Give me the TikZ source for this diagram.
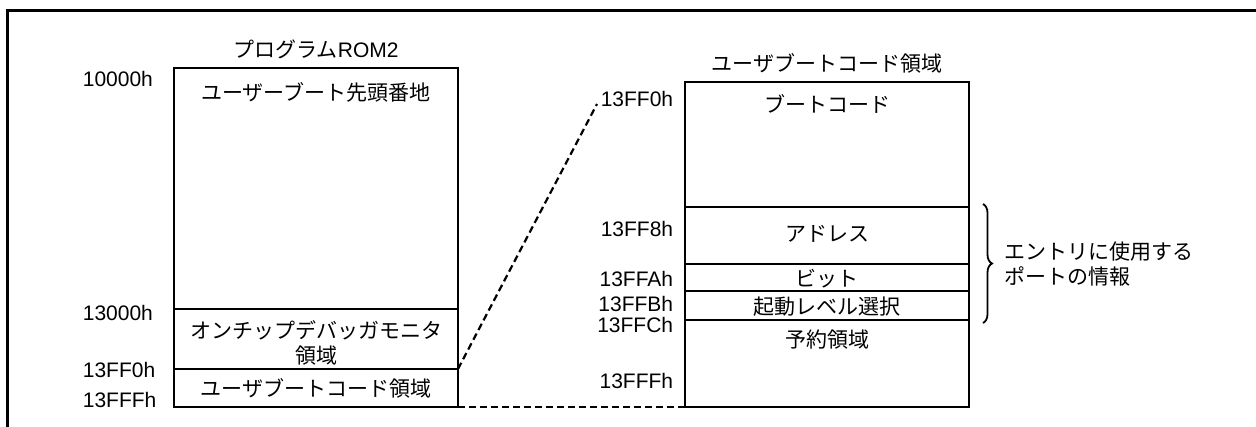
\documentclass[tikz,border=0pt]{standalone}
\usepackage{fontspec}
\setmainfont{Liberation Sans}
\newfontfamily\jp{Noto Sans CJK JP}
\usetikzlibrary{decorations.pathreplacing}
\tikzset{
  lbl/.style={inner sep=0pt, font=\fontsize{21}{25}\selectfont},
  jlbl/.style={lbl, font=\jp\fontsize{21}{25}\selectfont},
  addr/.style={lbl}
}
\begin{document}
\begin{tikzpicture}[x=1pt, y=-1pt, line width=1.7pt, line join=miter]
  \useasboundingbox (0,0) rectangle (1256,427);
  % 外枠
  \draw[line width=3pt] (7,427) -- (7,11) -- (1256,11);

  % 左のメモリマップの座標
  \coordinate (LT) at (174,68);
  \coordinate (LA) at (458,309);
  \coordinate (LB) at (458,369);
  \coordinate (LR) at (458,407);
  % 右のメモリマップの座標
  \coordinate (RT) at (685,82);
  \coordinate (RR) at (969,407);
  \coordinate (RL) at (685,407);
  \coordinate (Z) at (597,104);

  % 左の枠
  \draw (LT) rectangle (LR);
  \draw (174,309) -- (LA);
  \draw (174,369) -- (LB);

  % 右の枠
  \draw (RT) rectangle (RR);
  \foreach \y in {207,264,291,320}
    \draw (685,\y) -- (969,\y);

  % 拡大を示す破線
  \draw[dashed, dash pattern=on 7pt off 4pt, line width=2.2pt] (LB) -- (Z);
  \draw[dashed, dash pattern=on 7pt off 4pt, line width=2.2pt] (LR) -- (RL);

  % 見出し
  \node[lbl] (titleL) at (316,49) {{\jp プログラム}ROM2};
  \node[jlbl] (titleR) at (827,63) {ユーザブートコード領域};

  % 左のアドレス
  \node[addr, anchor=west] (a10000) at (82,79) {10000h};
  \node[addr, anchor=west] (a13000) at (82,313) {13000h};
  \node[addr, anchor=west] (a13FF0) at (82,370) {13FF0h};
  \node[addr, anchor=west] (a13FFF) at (82,400) {13FFFh};

  % 右のアドレス
  \node[addr, anchor=east] (b13FF0) at (674,99) {13FF0h};
  \node[addr, anchor=east] (b13FF8) at (674,229) {13FF8h};
  \node[addr, anchor=east] (b13FFA) at (674,279) {13FFAh};
  \node[addr, anchor=east] (b13FFB) at (674,304) {13FFBh};
  \node[addr, anchor=east] (b13FFC) at (674,325) {13FFCh};
  \node[addr, anchor=east] (b13FFF) at (674,381) {13FFFh};

  % 左の領域名
  \node[jlbl] (top) at (316,92) {ユーザーブート先頭番地};
  \node[jlbl, align=center] (ocd) at (316,343) {オンチップデバッガモニタ\\領域};
  \node[jlbl] (ubc) at (316,388) {ユーザブートコード領域};

  % 右の領域名
  \node[jlbl] (boot) at (827,104) {ブートコード};
  \node[jlbl] (adr) at (827,234) {アドレス};
  \node[jlbl] (bit) at (827,279) {ビット};
  \node[jlbl] (lvl) at (827,307) {起動レベル選択};
  \node[jlbl] (rsv) at (827,340) {予約領域};

  % 波括弧と説明
  \draw[decorate, decoration={brace, amplitude=9pt}, line width=1.8pt]
    (983,204) -- (983,323);
  \node[jlbl, align=left, anchor=west] (port) at (1004,264)
    {エントリに使用する\\ポートの情報};
\end{tikzpicture}
\end{document}
